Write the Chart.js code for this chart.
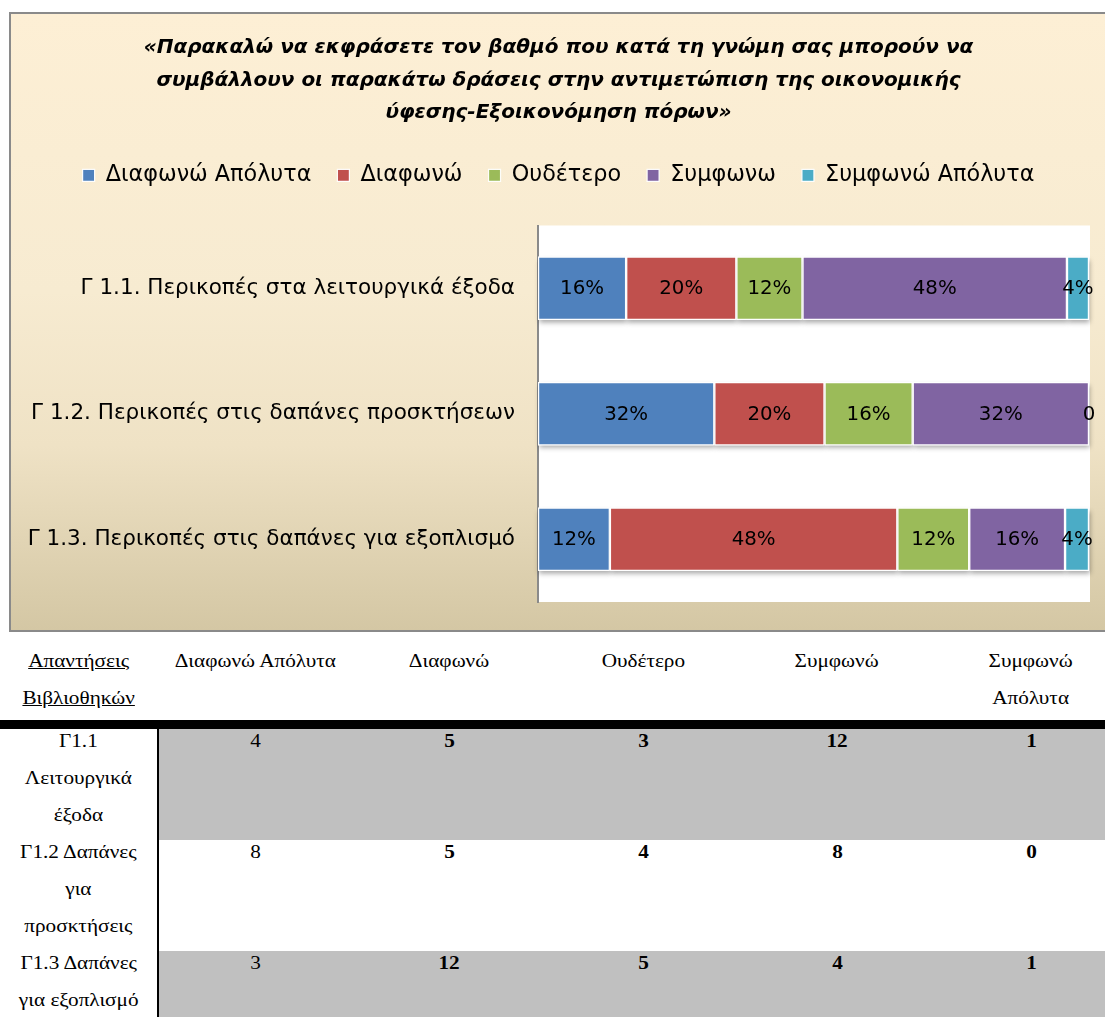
<!DOCTYPE html>
<html><head><meta charset="utf-8">
<script src="https://cdn.jsdelivr.net/npm/chart.js@4.4.0/dist/chart.umd.min.js"></script>
<style>
html,body{margin:0;padding:0;background:#fff;overflow:hidden;width:1105px;height:1017px;position:relative;}
#frame{position:absolute;left:9px;top:12px;width:1112px;height:620px;box-sizing:border-box;border:2px solid #8a8a8a;background:linear-gradient(to bottom,#fdefd5 0%,#f7ebd1 45%,#efe2c5 70%,#d4c7a4 100%);}
#frame canvas{position:absolute;left:0;top:0;}
table{border-collapse:collapse;table-layout:fixed;font-family:"Liberation Serif","Times New Roman",serif;font-size:18px;line-height:37px;color:#000;}
td{padding:0;text-align:center;vertical-align:top;}
td .s{display:inline-block;transform:scaleX(1.18);transform-origin:center;}
#head{position:absolute;left:0;top:643px;}
#bar{position:absolute;left:0;top:720px;width:1105px;height:9px;background:#000;}
#body{position:absolute;left:0;top:729px;}
#body td .s{position:relative;top:-6px;}
#body td.lab{background:#fff;border-right:2px solid #000;}
#body tr.g td.v{background:#c0c0c0;}
#body td.b{font-weight:bold;}
.u{text-decoration:underline;}
</style></head>
<body>
<div id="frame"><canvas id="c" width="1108" height="616"></canvas></div>
<table id="head"><colgroup id="hcols"></colgroup><tbody><tr id="hrow"></tr></tbody></table>
<div id="bar"></div>
<table id="body"><colgroup id="bcols"></colgroup><tbody id="tbody"></tbody></table>
<script>
// ---- chart data ----
const titleLines = ['«Παρακαλώ να εκφράσετε τον βαθμό που κατά τη γνώμη σας μπορούν να', 'συμβάλλουν οι παρακάτω δράσεις στην αντιμετώπιση της οικονομικής', 'ύφεσης-Εξοικονόμηση πόρων»'];
const categories = ['Γ 1.1. Περικοπές στα λειτουργικά έξοδα', 'Γ 1.2. Περικοπές στις δαπάνες προσκτήσεων', 'Γ 1.3. Περικοπές στις δαπάνες για εξοπλισμό'];
const seriesNames = ['Διαφωνώ Απόλυτα', 'Διαφωνώ', 'Ουδέτερο', 'Συμφωνω', 'Συμφωνώ Απόλυτα'];
const diafonoApolyta = [16, 32, 12];
const diafono = [20, 20, 48];
const oudetero = [12, 16, 12];
const symfono = [48, 32, 16];
const symfonoApolyta = [4, 0, 4];
const seriesColors = ['#4f81bd', '#c0504d', '#9bbb59', '#8064a2', '#4bacc6'];

// ---- table data ----
const tableHeader = ['Απαντήσεις|Βιβλιοθηκών', 'Διαφωνώ Απόλυτα', 'Διαφωνώ', 'Ουδέτερο', 'Συμφωνώ', 'Συμφωνώ|Απόλυτα'];
const tableRowLabels = ['Γ1.1|Λειτουργικά|έξοδα', 'Γ1.2 Δαπάνες|για|προσκτήσεις', 'Γ1.3 Δαπάνες|για εξοπλισμό'];
const countDiafonoApolyta = [4, 8, 3];
const countDiafono = [5, 5, 12];
const countOudetero = [3, 4, 5];
const countSymfono = [12, 8, 4];
const countSymfonoApolyta = [1, 0, 1];

const FONT = '"DejaVu Sans", "Open Sans", sans-serif';
const seriesValues = [diafonoApolyta, diafono, oudetero, symfono, symfonoApolyta];
const totals = categories.map((_, i) => seriesValues.reduce((s, arr) => s + arr[i], 0));

const datasets = seriesValues.map((arr, k) => ({
  label: seriesNames[k],
  data: arr.map((v, i) => v / totals[i] * 100),
  rawValues: arr,
  backgroundColor: seriesColors[k],
  borderColor: 'rgba(255,255,255,0.95)',
  borderWidth: 1.2,
  borderSkipped: false,
  categoryPercentage: 1,
  barPercentage: 0.505
}));

const plotBg = {
  id: 'plotBg',
  beforeDraw(chart) {
    const {ctx, chartArea: a} = chart;
    ctx.save(); ctx.fillStyle = '#fff';
    ctx.fillRect(a.left, a.top, a.right - a.left + 1, a.bottom - a.top);
    ctx.restore();
  }
};
const barShadow = {
  id: 'barShadow',
  beforeDatasetsDraw(chart) {
    const ctx = chart.ctx;
    ctx.save();
    ctx.shadowColor = 'rgba(0,0,0,0.35)'; ctx.shadowBlur = 5; ctx.shadowOffsetY = 3; ctx.shadowOffsetX = 1;
    ctx.fillStyle = '#fff';
    chart.data.datasets.forEach((ds, di) => {
      chart.getDatasetMeta(di).data.forEach(bar => {
        const p = bar.getProps(['x', 'y', 'base', 'height'], true);
        const l = Math.min(p.x, p.base), w = Math.abs(p.x - p.base);
        if (w > 0) ctx.fillRect(l, p.y - p.height / 2, w, p.height);
      });
    });
    ctx.restore();
  }
};
const valueLabels = {
  id: 'valueLabels',
  afterDatasetsDraw(chart) {
    const ctx = chart.ctx;
    ctx.save();
    ctx.font = '19.8px ' + FONT; ctx.fillStyle = '#000';
    ctx.textAlign = 'center'; ctx.textBaseline = 'middle';
    chart.data.datasets.forEach((ds, di) => {
      chart.getDatasetMeta(di).data.forEach((bar, i) => {
        const p = bar.getProps(['x', 'y', 'base'], true);
        const raw = ds.rawValues[i];
        ctx.fillText(raw === 0 ? '0' : raw + '%', (p.x + p.base) / 2, p.y + 1);
      });
    });
    ctx.restore();
  }
};

new Chart(document.getElementById('c'), {
  type: 'bar',
  data: {labels: categories, datasets},
  plugins: [plotBg, barShadow, valueLabels],
  options: {
    responsive: false, animation: false, indexAxis: 'y',
    layout: {padding: {left: 17, right: 30, top: 0, bottom: 28}},
    plugins: {
      tooltip: {enabled: false},
      title: {display: true, text: titleLines, color: '#000',
        font: {family: FONT, size: 20, weight: 'bold', style: 'italic', lineHeight: 1.62},
        padding: {top: 18, bottom: 9}},
      legend: {display: true, position: 'top',
        labels: {color: '#000', font: {family: FONT, size: 22.3}, boxWidth: 12, boxHeight: 12, padding: 26}}
    },
    scales: {
      x: {stacked: true, min: 0, max: 100, position: 'top', display: true,
        grid: {display: false}, border: {display: false}, ticks: {display: false},
        afterFit(s) { s.height = 29; }},
      y: {stacked: true, grid: {display: false, drawTicks: false},
        border: {display: true, color: '#8a8a8a', width: 2},
        ticks: {color: '#000', font: {family: FONT, size: 21.5}, padding: 23},
        afterFit(s) { s.width = 510; s.paddingTop = 0; s.paddingBottom = 0; }}
    }
  }
});

// ---- table ----
const colWidths = [158, 194, 194, 194, 194, 194];
const totalW = colWidths.reduce((a, b) => a + b, 0) + 'px';
function cols(id) { document.getElementById(id).innerHTML = colWidths.map(w => '<col style="width:' + w + 'px">').join(''); }
cols('hcols'); cols('bcols');
document.getElementById('head').style.width = totalW;
document.getElementById('body').style.width = totalW;
const lines = (t, cls) => '<span class="s">' + t.split('|').map(x => cls ? '<span class="' + cls + '">' + x + '</span>' : x).join('<br>') + '</span>';
document.getElementById('hrow').innerHTML = tableHeader.map((h, i) => '<td>' + lines(h, i === 0 ? 'u' : '') + '</td>').join('');
const countCols = [countDiafonoApolyta, countDiafono, countOudetero, countSymfono, countSymfonoApolyta];
document.getElementById('tbody').innerHTML = tableRowLabels.map((lab, i) =>
  '<tr class="' + (i % 2 === 0 ? 'g' : 'w') + '"><td class="lab">' + lines(lab, '') + '</td>' +
  countCols.map((c, k) => '<td class="v' + (k > 0 ? ' b' : '') + '">' + lines(String(c[i]), '') + '</td>').join('') + '</tr>'
).join('');
</script>
</body></html>
